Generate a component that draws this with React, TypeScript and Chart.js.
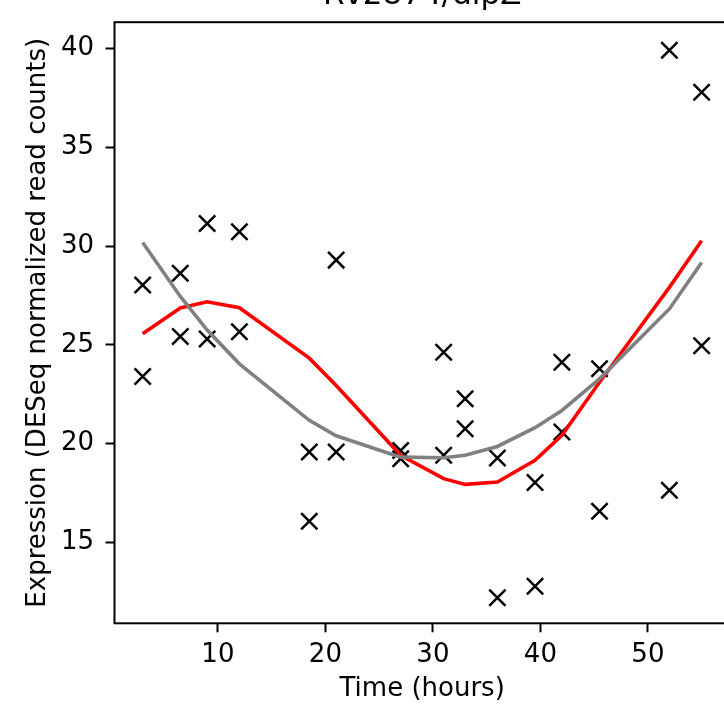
import React, { useEffect, useRef } from "react";
import { Chart, registerables } from "chart.js";

Chart.register(...registerables);

const titleText = "Rv2874/dipZ";
const xLabel = "Time (hours)";
const yLabel = "Expression (DESeq normalized read counts)";

const times = [3, 6.5, 9, 12, 18.5, 21, 27, 31, 33, 36, 39.5, 42, 45.5, 52, 55];
const replicateA = [28.03, 28.62, 31.14, 30.72, 19.58, 29.29, 19.66, 24.63, 22.27, 19.27, 18.03, 24.12, 23.79, 39.91, 37.79];
const replicateB = [23.4, 25.42, 25.3, 25.67, 16.08, 19.58, 19.24, 19.41, 20.76, 12.2, 12.79, 20.59, 16.58, 17.64, 24.96];
const redFit = [25.56, 26.87, 27.18, 26.88, 24.33, 22.94, 19.41, 18.23, 17.94, 18.06, 19.16, 20.42, 23.11, 27.91, 30.27];
const greyFit = [30.18, 27.45, 25.75, 24.04, 21.18, 20.4, 19.32, 19.29, 19.41, 19.86, 20.81, 21.68, 23.28, 26.82, 29.17];

const xTicks = [10, 20, 30, 40, 50];
const yTicks = [15, 20, 25, 30, 35, 40];
const xRange = [0.38, 57.62];
const yRange = [10.91, 41.33];

const CW = 780;
const CH = 746;
const OFFSET_TOP = 40;

const framePlugin = {
  id: "frame",
  afterDatasetsDraw(chart: any) {
    const { ctx, chartArea } = chart;
    ctx.save();
    ctx.strokeStyle = "#000";
    ctx.lineWidth = 2;
    ctx.strokeRect(chartArea.left, chartArea.top, chartArea.right - chartArea.left, chartArea.bottom - chartArea.top);
    ctx.restore();
  },
};

export default function App() {
  const ref = useRef<HTMLCanvasElement | null>(null);

  useEffect(() => {
    if (!ref.current) return;
    const scatterPts = [
      ...times.map((t, i) => ({ x: t, y: replicateA[i] })),
      ...times.map((t, i) => ({ x: t, y: replicateB[i] })),
    ];
    const font = { family: "DejaVu Sans", size: 26 };
    const chart = new Chart(ref.current, {
      type: "scatter",
      data: {
        datasets: [
          {
            label: "grey",
            data: times.map((t, i) => ({ x: t, y: greyFit[i] })),
            showLine: true,
            borderColor: "#808080",
            backgroundColor: "#808080",
            borderWidth: 3.6,
            pointRadius: 0,
            order: 1,
          },
          {
            label: "red",
            data: times.map((t, i) => ({ x: t, y: redFit[i] })),
            showLine: true,
            borderColor: "#ff0000",
            backgroundColor: "#ff0000",
            borderWidth: 3.6,
            pointRadius: 0,
            order: 2,
          },
          {
            label: "data",
            data: scatterPts,
            pointStyle: "crossRot",
            pointRadius: 11.5,
            pointBorderWidth: 2.5,
            borderColor: "#000",
            backgroundColor: "#000",
            order: 3,
          },
        ],
      },
      options: {
        animation: false,
        responsive: false,
        devicePixelRatio: 1,
        layout: { padding: { left: 0, right: 50.2, top: 0, bottom: 0 } },
        plugins: {
          legend: { display: false },
          tooltip: { enabled: false },
          title: {
            display: true,
            text: titleText,
            fullSize: false,
            color: "#000",
            font: { family: "DejaVu Sans", size: 31, weight: "normal" },
            padding: { top: 17.6, bottom: 7.4 },
          },
        },
        scales: {
          x: {
            type: "linear",
            min: xRange[0],
            max: xRange[1],
            afterBuildTicks: (axis: any) => {
              axis.ticks = xTicks.map((v) => ({ value: v }));
            },
            afterFit: (scale: any) => {
              scale.height = CH - (21 + OFFSET_TOP) - (623.3 - 21);
            },
            border: { display: false },
            grid: { display: true, drawOnChartArea: false, drawTicks: true, tickLength: 9, tickWidth: 2, tickColor: "#000" },
            ticks: { color: "#000", font, padding: 7.7, maxRotation: 0 },
            title: { display: true, text: xLabel, color: "#000", font, padding: { top: 0, bottom: 1 } },
          },
          y: {
            type: "linear",
            min: yRange[0],
            max: yRange[1],
            afterBuildTicks: (axis: any) => {
              axis.ticks = yTicks.map((v) => ({ value: v }));
            },
            afterFit: (scale: any) => {
              scale.width = 114.5;
            },
            border: { display: false },
            grid: { display: true, drawOnChartArea: false, drawTicks: true, tickLength: 9, tickWidth: 2, tickColor: "#000" },
            ticks: { color: "#000", font, padding: 11.5 },
            title: { display: true, text: yLabel, color: "#000", font, padding: { top: 22.5, bottom: 0 } },
          },
        },
      },
      plugins: [framePlugin],
    });
    return () => chart.destroy();
  }, []);

  return (
    <div style={{ position: "fixed", left: 0, top: 0, width: 724, height: 706, overflow: "hidden", background: "#fff" }}>
      <div style={{ position: "absolute", left: 0, top: -OFFSET_TOP, width: CW, height: CH }}>
        <canvas ref={ref} width={CW} height={CH} style={{ display: "block", width: CW, height: CH }} />
      </div>
    </div>
  );
}
